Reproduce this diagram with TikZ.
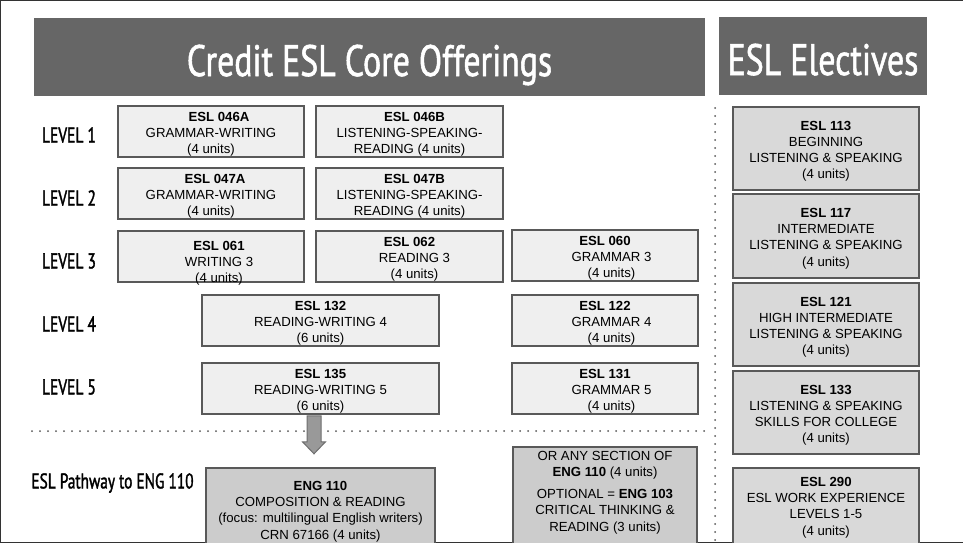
\documentclass[tikz,border=0pt]{standalone}
\usepackage{fontspec}
\setmainfont{Liberation Sans}
\newfontfamily\oswfont[FakeStretch=0.77,FakeBold=1.2]{PT Sans}
\newfontfamily\levfont[FakeStretch=0.72,FakeBold=1.5]{PT Sans}
\usetikzlibrary{calc}
\definecolor{titlegray}{HTML}{666666}
\definecolor{corefill}{HTML}{EFEFEF}
\definecolor{elecfill}{HTML}{D9D9D9}
\definecolor{engfill}{HTML}{CCCCCC}
\definecolor{bordc}{HTML}{595959}
\definecolor{arrowfill}{HTML}{999999}
\definecolor{arrowline}{HTML}{6E6E6E}
\definecolor{framec}{HTML}{333333}
\definecolor{dotc}{HTML}{555555}
\newcommand\tp{\rule{0pt}{14.5pt}}
\tikzset{
  boxtext/.style={align=center, inner sep=0pt, font=\fontsize{13.2}{16.2}\selectfont},
  corebox/.style={boxtext, draw=bordc, line width=1.6pt, fill=corefill},
  elecbox/.style={boxtext, draw=bordc, line width=1.6pt, fill=elecfill, minimum width=186pt},
  engbox/.style={draw=bordc, line width=1.6pt, fill=engfill, inner sep=0pt},
  titlebox/.style={fill=titlegray, inner sep=0pt},
  titletext/.style={text=white, inner sep=0pt, anchor=base, font=\oswfont\fontsize{44}{50}\selectfont},
  levellabel/.style={inner sep=0pt, font=\levfont\fontsize{21.5}{24}\selectfont},
  dotline/.style={draw=dotc, line width=2pt, line cap=round, dash pattern=on 0pt off 8pt},
}
\begin{document}
\begin{tikzpicture}[x=1pt,y=-1pt]
\clip (0,0) rectangle (963,543);
\fill[white] (0,0) rectangle (963,543);
% frame
\draw[framec, line width=2.5pt] (0,543) -- (0,0) -- (963,0);
\draw[framec, line width=2.5pt] (0,543) -- (963,543);

% titles
\node[titlebox, minimum width=671pt, minimum height=78pt] (t1) at (369.5,57) {};
\node[titletext] (t1t) at (369.5,76) {Credit ESL Core Offerings};
\node[titlebox, minimum width=208pt, minimum height=78pt] (t2) at (823,56) {};
\node[titletext] (t2t) at (823,75) {ESL Electives};

% level labels
\node[levellabel] (l1) at (69,135) {LEVEL 1};
\node[levellabel] (l2) at (69,198) {LEVEL 2};
\node[levellabel] (l3) at (69,261) {LEVEL 3};
\node[levellabel] (l4) at (69,324) {LEVEL 4};
\node[levellabel] (l5) at (69,387) {LEVEL 5};
\node[levellabel, font=\levfont\fontsize{21.3}{24}\selectfont] (lp) at (112.5,483) {ESL Pathway to ENG 110};

% dotted separators
\coordinate (vtop) at (715,108);
\coordinate (vbot) at (715,545);
\coordinate (hl) at (32,431);
\coordinate (hr) at (711,431);
\draw[dotline] (vtop) -- (vbot);
\draw[dotline] (hl) -- (hr);

% core boxes
\node[corebox, minimum width=186pt, minimum height=51pt] (b046a) at (211,131.5) {\tp\hspace*{16pt}\textbf{ESL 046A}\\GRAMMAR-WRITING\\(4 units)};
\node[corebox, minimum width=187pt, minimum height=51pt] (b046b) at (409.5,131.5) {\tp\hspace*{10pt}\textbf{ESL 046B}\\LISTENING-SPEAKING-\\READING (4 units)};
\node[corebox, minimum width=186pt, minimum height=51pt] (b047a) at (211,193.5) {\tp\hspace*{8pt}\textbf{ESL 047A}\\GRAMMAR-WRITING\\(4 units)};
\node[corebox, minimum width=187pt, minimum height=51pt] (b047b) at (409.5,193.5) {\tp\hspace*{10pt}\textbf{ESL 047B}\\LISTENING-SPEAKING-\\READING (4 units)};
\node[corebox, minimum width=186pt, minimum height=51pt] (b061) at (211,256.5) {};
\node[boxtext] (b061t) at (219,260.5) {\tp\textbf{ESL 061}\\WRITING 3\\(4 units)};
\node[corebox, minimum width=187pt, minimum height=51pt] (b062) at (409.5,256.5) {\tp\textbf{ESL 062}\\\hspace*{10pt}READING 3\\\hspace*{10pt}(4 units)};
\node[corebox, minimum width=186pt, minimum height=51pt] (b060) at (605,255.5) {\tp\textbf{ESL 060}\\\hspace*{13pt}GRAMMAR 3\\\hspace*{13pt}(4 units)};
\node[corebox, minimum width=237pt, minimum height=51pt] (b132) at (320.5,320.5) {\tp\textbf{ESL 132}\\READING-WRITING 4\\(6 units)};
\node[corebox, minimum width=186pt, minimum height=51pt] (b122) at (605,320.5) {\tp\textbf{ESL 122}\\\hspace*{13pt}GRAMMAR 4\\\hspace*{13pt}(4 units)};
\node[corebox, minimum width=237pt, minimum height=51pt] (b135) at (320.5,388.5) {\tp\textbf{ESL 135}\\READING-WRITING 5\\(6 units)};
\node[corebox, minimum width=186pt, minimum height=51pt] (b131) at (605,388.5) {\tp\textbf{ESL 131}\\\hspace*{13pt}GRAMMAR 5\\\hspace*{13pt}(4 units)};

% arrow from ESL 135 toward ENG 110
\draw[arrowline, fill=arrowfill, line width=1pt, line join=miter]
  ($(b135.south)+(-13.5,1)$) -- ++(0,26) -- ++(-4.5,0) -- ++(11.5,12) -- ++(11.5,-12) -- ++(-4.5,0) -- ++(0,-26) -- cycle;

% pathway boxes
\node[engbox, minimum width=229pt, minimum height=110pt, anchor=north] (eng110) at (320.5,467) {};
\node[boxtext] (eng110t) at (320.5,511.5) {\textbf{ENG 110}\\COMPOSITION \& READING\\(focus: multilingual English writers)\\CRN 67166 (4 units)};
\node[engbox, minimum width=184pt, minimum height=120pt, anchor=north] (orbox) at (605,446) {};
\node[boxtext] (ortext) at (605,492.5) {OR ANY SECTION OF\\\textbf{ENG 110} (4 units)\\[6pt]OPTIONAL = \textbf{ENG 103}\\CRITICAL THINKING \&\\READING (3 units)};

% electives
\node[elecbox, minimum height=83pt] (e113) at (826,148.5) {\tp\textbf{ESL 113}\\BEGINNING\\LISTENING \& SPEAKING\\(4 units)};
\node[elecbox, minimum height=84pt] (e117) at (826,236) {\tp\textbf{ESL 117}\\INTERMEDIATE\\LISTENING \& SPEAKING\\(4 units)};
\node[elecbox, minimum height=83pt] (e121) at (826,324.5) {\tp\textbf{ESL 121}\\HIGH INTERMEDIATE\\LISTENING \& SPEAKING\\(4 units)};
\node[elecbox, minimum height=83pt] (e133) at (826,412.5) {\tp\textbf{ESL 133}\\LISTENING \& SPEAKING\\SKILLS FOR COLLEGE\\(4 units)};
\node[engbox, fill=elecfill, minimum width=186pt, minimum height=110pt, anchor=north] (e290) at (826,467) {};
\node[boxtext] (e290t) at (826,507.5) {\textbf{ESL 290}\\ESL WORK EXPERIENCE\\LEVELS 1-5\\(4 units)};
\end{tikzpicture}
\end{document}
